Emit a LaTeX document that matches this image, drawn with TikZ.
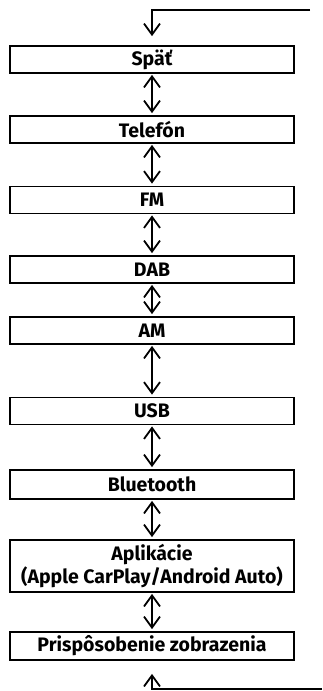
\documentclass[tikz,border=0pt]{standalone}
\usepackage{fontspec}
\setmainfont{Fira Sans}
\usetikzlibrary{arrows.meta, positioning}

\tikzset{
  menubox/.style={draw, line width=1.8pt, minimum width=284pt, minimum height=27pt,
    inner sep=0pt, font=\fontsize{19.5}{21}\selectfont\bfseries, align=center},
  link/.style={line width=1.8pt, {Straight Barb[length=11pt,width=16pt]}-{Straight Barb[length=11pt,width=16pt]},
    shorten <=1pt, shorten >=2pt},
  loopline/.style={line width=1.8pt, -{Straight Barb[length=11pt,width=16pt]}}
}

\begin{document}
\begin{tikzpicture}[x=1pt, y=-1pt]
  \useasboundingbox (0,0) rectangle (322,691);
  % menu entries
  \node[menubox] (spat) at (152,59.5) {Späť};
  \node[menubox] (telefon) at (152,129.5) {Telefón};
  \node[menubox] (fm) at (152,200) {FM};
  \node[menubox] (dab) at (152,269.5) {DAB};
  \node[menubox] (am) at (152,330.5) {AM};
  \node[menubox] (usb) at (152,411) {USB};
  \node[menubox, minimum height=29pt] (bt) at (152,484.5) {Bluetooth};
  \node[menubox, minimum height=52pt] (apps) at (152,566) {Aplikácie\\(Apple CarPlay/Android Auto)};
  \node[menubox, minimum height=28pt] (display) at (152,646) {Prispôsobenie zobrazenia};
  % links between entries
  \foreach \a/\b in {spat/telefon, telefon/fm, fm/dab, dab/am, am/usb, usb/bt, bt/apps, apps/display}{
    \draw[link] (\a.south) -- (\b.north);
  }
  % wrap-around ends
  \coordinate (topend) at (310,10);
  \coordinate (topbend) at (152,10);
  \coordinate (botend) at (322,689);
  \coordinate (botbend) at (152,689);
  \draw[loopline, shorten >=9pt] (topend) -- (topbend) -- (spat.north);
  \draw[loopline, shorten >=13pt] (botend) -- (botbend) -- (display.south);
\end{tikzpicture}
\end{document}
